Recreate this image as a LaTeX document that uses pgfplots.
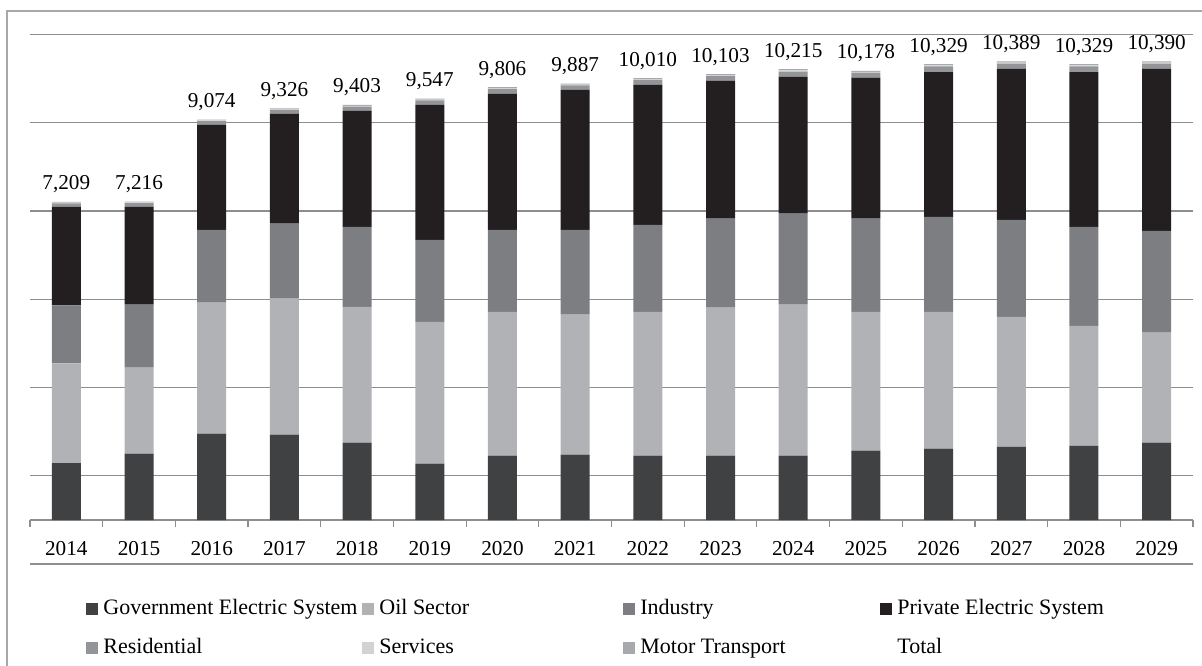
\documentclass[border=0pt]{standalone}
\usepackage{fontspec}
\setmainfont{Liberation Serif}
\usepackage{pgfplots}
\usepackage{pgfplotstable}
\pgfplotsset{compat=1.18}

\definecolor{cGov}{HTML}{404143}
\definecolor{cOil}{HTML}{B1B2B5}
\definecolor{cInd}{HTML}{7D7E82}
\definecolor{cPriv}{HTML}{231F20}
\definecolor{cRes}{HTML}{939598}
\definecolor{cSer}{HTML}{D1D2D4}
\definecolor{cMot}{HTML}{A7A9AC}
\definecolor{cGrid}{HTML}{8E8E8E}
\definecolor{cFrame}{HTML}{A8A8A8}

% consumption by sector, 2014-2029
\pgfplotstableread{
x  gov  oil  ind  priv res ser mot total
0  1286 2265 1310 2232 80  18  18  7209
1  1504 1950 1423 2216 85  19  19  7216
2  1957 2969 1650 2377 84  19  18  9074
3  1933 3082 1698 2491 85  19  18  9326
4  1755 3074 1811 2629 94  20  20  9403
5  1278 3211 1860 3057 99  21  21  9547
6  1456 3259 1861 3081 104 23  22  9806
7  1480 3171 1925 3170 99  21  21  9887
8  1456 3259 1974 3170 106 23  22  10010
9  1456 3356 2014 3122 108 24  23  10103
10 1456 3421 2063 3097 124 27  27  10215
11 1569 3146 2111 3195 110 24  23  10178
12 1618 3097 2152 3283 125 27  27  10329
13 1658 2944 2200 3421 116 25  25  10389
14 1682 2718 2240 3510 125 27  27  10329
15 1755 2491 2305 3672 117 25  25  10390
}\energy

\newcommand{\lbl}{\fontsize{10.6bp}{12bp}\selectfont}
\newcommand{\leg}{\fontsize{11bp}{13bp}\selectfont}

\begin{document}
\begin{tikzpicture}
\useasboundingbox (0,0) rectangle (601bp,333bp);
\draw[cFrame, line width=0.75bp] (3.5bp,-2bp) -- (3.5bp,327.5bp) -- (603bp,327.5bp);
\begin{axis}[
  at={(15bp,73bp)}, anchor=south west,
  scale only axis, width=581.5bp, height=242.75bp,
  ybar stacked, bar width=14.5bp,
  xmin=-0.5, xmax=15.5, ymin=0, ymax=11000,
  enlarge x limits=false, enlarge y limits=false,
  scaled y ticks=false,
  clip=false,
  axis x line*=bottom,
  x axis line style={cGrid, line width=0.6bp, -},
  y axis line style={draw=none},
  ytick={1000,3000,5000,7000,9000,11000},
  yticklabels={},
  y tick style={draw=none},
  ymajorgrids,
  major grid style={cGrid, line width=0.6bp},
  xtick={-0.5,0.5,1.5,2.5,3.5,4.5,5.5,6.5,7.5,8.5,9.5,10.5,11.5,12.5,13.5,14.5,15.5},
  xticklabels={},
  tick align=outside,
  x tick style={cGrid, line width=0.6bp},
  major tick length=3.5bp,
  extra x ticks={0,1,2,3,4,5,6,7,8,9,10,11,12,13,14,15},
  extra x tick labels={2014,2015,2016,2017,2018,2019,2020,2021,2022,2023,2024,2025,2026,2027,2028,2029},
  extra x tick style={major tick length=0pt, grid=none},
  xticklabel style={font=\lbl, yshift=-7bp},
  legend columns=4,
  legend cell align=left,
  legend style={draw=none, fill=none, inner sep=0pt,
    at={(axis description cs:0,0)}, anchor=north west,
    xshift=28bp, yshift=-39.5bp,
    font=\leg,
    nodes={inner sep=0pt, text height=7.5bp, text depth=2bp},
    row sep=10bp,
    /tikz/every odd column/.append style={column sep=2.5bp},
    /tikz/every even column/.append style={column sep=0pt}},
  /pgf/number format/.cd, fixed, precision=0, 1000 sep={,}, assume math mode=true,
]
\addplot[fill=cGov, draw=none,
  legend image code/.code={\fill[cGov] (0bp,-3bp) rectangle (6bp,3bp);}]
  table[x=x, y=gov] {\energy};
\addlegendentry{\makebox[129.5bp][l]{Government Electric System}}
\addplot[fill=cOil, draw=none,
  legend image code/.code={\fill[cOil] (0bp,-3bp) rectangle (6bp,3bp);}]
  table[x=x, y=oil] {\energy};
\addlegendentry{\makebox[122bp][l]{Oil Sector}}
\addplot[fill=cInd, draw=none,
  legend image code/.code={\fill[cInd] (0bp,-3bp) rectangle (6bp,3bp);}]
  table[x=x, y=ind] {\energy};
\addlegendentry{\makebox[120bp][l]{Industry}}
\addplot[fill=cPriv, draw=none,
  legend image code/.code={\fill[cPriv] (0bp,-3bp) rectangle (6bp,3bp);}]
  table[x=x, y=priv] {\energy};
\addlegendentry{Private Electric System}
\addplot[fill=cRes, draw=none,
  legend image code/.code={\fill[cRes] (0bp,-3bp) rectangle (6bp,3bp);}]
  table[x=x, y=res] {\energy};
\addlegendentry{Residential}
\addplot[fill=cSer, draw=none,
  legend image code/.code={\fill[cSer] (0bp,-3bp) rectangle (6bp,3bp);}]
  table[x=x, y=ser] {\energy};
\addlegendentry{Services}
% the top segment carries the total of each bar as its label
\addplot[fill=cMot, draw=none,
  legend image code/.code={\fill[cMot] (0bp,-3bp) rectangle (6bp,3bp);},
  point meta=explicit,
  nodes near coords,
  every node near coord/.append style={font=\lbl, text=black, yshift=9bp}]
  table[x=x, y=mot, meta=total] {\energy};
\addlegendentry{Motor Transport}
\addlegendimage{empty legend}
\addlegendentry{Total}
% rule under the year labels
\draw[cGrid, line width=0.6bp] ([yshift=-22bp]rel axis cs:0,0) -- ([yshift=-22bp]rel axis cs:1,0);
\end{axis}
\end{tikzpicture}
\end{document}
